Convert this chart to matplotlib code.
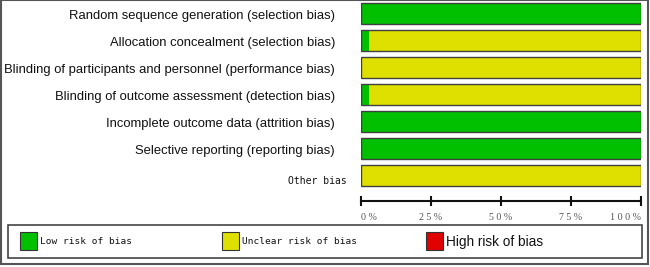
import matplotlib.pyplot as plt
from matplotlib.patches import Rectangle
import numpy as np

# domains of risk of bias (top to bottom)
domains = [
    'Random sequence generation (selection bias)',
    'Allocation concealment (selection bias)',
    'Blinding of participants and personnel (performance bias)',
    'Blinding of outcome assessment (detection bias)',
    'Incomplete outcome data (attrition bias)',
    'Selective reporting (reporting bias)',
    'Other bias',
]
low_risk = [100, 3, 0, 3, 100, 100, 0]
unclear_risk = [0, 97, 100, 97, 0, 0, 100]
high_risk = [0, 0, 0, 0, 0, 0, 0]

tick_vals = [0, 25, 50, 75, 100]
tick_labels = ['0 %', '2 5 %', '5 0 %', '7 5 %', '1 0 0 %']

legend_labels = ['Low risk of bias', 'Unclear risk of bias', 'High risk of bias']

GREEN = '#00c000'
YELLOW = '#e0e000'
RED = '#e00000'
EDGE = '#404040'

W, H = 650, 267
fig = plt.figure(figsize=(W / 100, H / 100), dpi=100)


def fx(px):
    return px / W


def fy(py):
    return 1 - py / H


# bar area: x 361..641 px, y 0..201 px
ax = fig.add_axes([fx(361), fy(201), fx(641) - fx(361), fy(0) - fy(201)])

y = np.arange(len(domains))
low = np.array(low_risk)
unc = np.array(unclear_risk)
high = np.array(high_risk)
h = 21 / 27

ax.barh(y, low, height=h, color=GREEN, edgecolor='none')
ax.barh(y, unc, left=low, height=h, color=YELLOW, edgecolor='none')
ax.barh(y, high, left=low + unc, height=h, color=RED, edgecolor='none')
ax.barh(y, low + unc + high, height=h, fill=False, edgecolor=EDGE, linewidth=1)

ax.set_xlim(0, 100)
ax.set_ylim((201 - 13.5) / 27, -0.5)

for s in ['top', 'left', 'right']:
    ax.spines[s].set_visible(False)
ax.spines['bottom'].set_linewidth(1.5)
ax.spines['bottom'].set_color('#111111')
ax.set_yticks([])
ax.set_xticks(tick_vals)
ax.set_xticklabels(tick_labels, fontfamily='Liberation Serif', fontsize=7.2, color='#555555')
ax.tick_params(axis='x', direction='inout', length=7, width=1.5, pad=5, color='#111111')
xl = ax.get_xticklabels()
xl[0].set_ha('left')
xl[-1].set_ha('right')

# row labels
trans = ax.get_yaxis_transform()
for i, name in enumerate(domains):
    if name == 'Other bias':
        ax.text((347 - 361) / 280, i + 0.2, name, transform=trans, ha='right', va='center',
                fontfamily='DejaVu Sans Mono', fontsize=7, color='#111111')
    else:
        ax.text((335 - 361) / 280, i + 0.08, name, transform=trans, ha='right', va='center',
                fontfamily='Liberation Sans', fontsize=9.4, color='#111111')

# outer frame
fig.add_artist(Rectangle((fx(1), fy(264)), fx(648) - fx(1), fy(0) - fy(264),
                         transform=fig.transFigure, fill=False, edgecolor='#555555', linewidth=1.5))

# legend box
fig.add_artist(Rectangle((fx(8), fy(258)), fx(642) - fx(8), fy(225) - fy(258),
                         transform=fig.transFigure, fill=False, edgecolor='#444444', linewidth=1.2))

leg_cols = [GREEN, YELLOW, RED]
leg_x = [20, 222, 426]
for col, lx, lab in zip(leg_cols, leg_x, legend_labels):
    fig.add_artist(Rectangle((fx(lx), fy(250)), fx(17), 18 / H,
                             transform=fig.transFigure, facecolor=col, edgecolor='#333333', linewidth=0.8))
    if lab == 'High risk of bias':
        fig.text(fx(lx + 20), fy(242), lab, ha='left', va='center',
                 fontfamily='Liberation Sans', fontsize=9.8, color='#111111')
    else:
        fig.text(fx(lx + 20), fy(242), lab, ha='left', va='center',
                 fontfamily='DejaVu Sans Mono', fontsize=6.8, color='#111111')

fig.savefig('out.png', dpi=100)
